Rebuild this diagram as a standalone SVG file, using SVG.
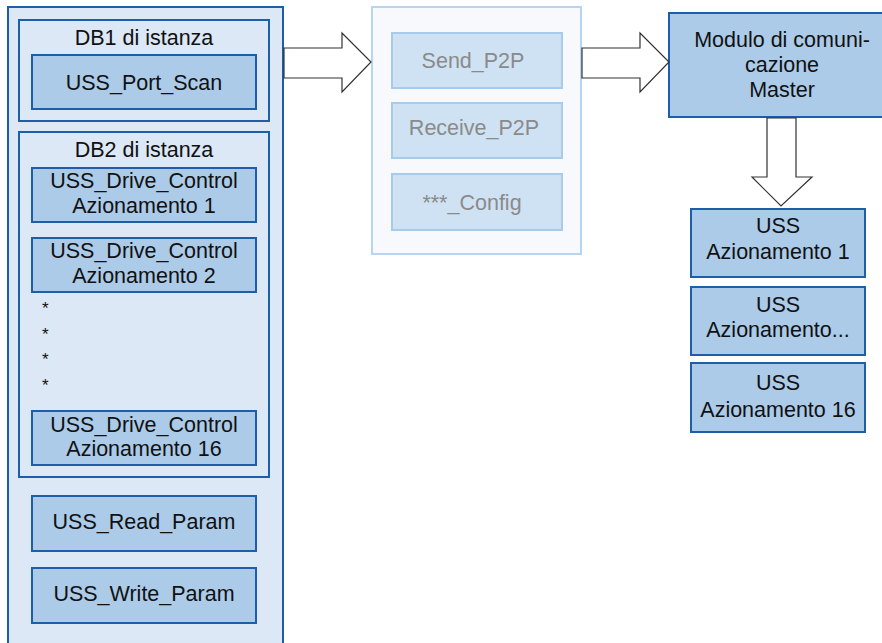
<svg xmlns="http://www.w3.org/2000/svg" width="882" height="643" viewBox="0 0 882 643">
  <style>
    .panel { fill: #dce8f5; stroke: #1c5fa8; stroke-width: 2; }
    .block { fill: #abcbe9; stroke: #1c5fa8; stroke-width: 2; }
    .lib { fill: #f7f9fc; stroke: #b9d4ee; stroke-width: 2; }
    .libblock { fill: #cfe2f3; stroke: #a8cbea; stroke-width: 2; }
    .t { font-family: "Liberation Sans", Arial, sans-serif; font-size: 21.5px; fill: #111; text-anchor: middle; }
    .g { fill: #8a8a8a; }
    .star { font-family: "Liberation Sans", Arial, sans-serif; font-size: 17px; fill: #111; }
    .arrow { fill: #ffffff; stroke: #333; stroke-width: 1.2; }
  </style>
  <rect width="882" height="643" fill="#ffffff"/>

  <!-- Program blocks (left column) -->
  <g id="program">
    <rect class="panel" x="8" y="7" width="275" height="650"/>
  </g>
  <g id="db1">
    <rect class="panel" x="19" y="20" width="250" height="101"/>
    <text class="t" x="144" y="45">DB1 di istanza</text>
  </g>
  <g id="port-scan">
    <rect class="block" x="32" y="55" width="224" height="54"/>
    <text class="t" x="144" y="90">USS_Port_Scan</text>
  </g>
  <g id="db2">
    <rect class="panel" x="19" y="132" width="250" height="345"/>
    <text class="t" x="144" y="157">DB2 di istanza</text>
  </g>
  <g id="drive1">
    <rect class="block" x="32" y="168" width="224" height="54"/>
    <text class="t" x="144" y="188">USS_Drive_Control</text>
    <text class="t" x="144" y="213">Azionamento 1</text>
  </g>
  <g id="drive2">
    <rect class="block" x="32" y="238" width="224" height="54"/>
    <text class="t" x="144" y="258">USS_Drive_Control</text>
    <text class="t" x="144" y="283">Azionamento 2</text>
  </g>
  <g id="ellipsis">
    <text class="star" x="42" y="314">*</text>
    <text class="star" x="42" y="340">*</text>
    <text class="star" x="42" y="365">*</text>
    <text class="star" x="42" y="391">*</text>
  </g>
  <g id="drive16">
    <rect class="block" x="32" y="411" width="224" height="54"/>
    <text class="t" x="144" y="432">USS_Drive_Control</text>
    <text class="t" x="144" y="456">Azionamento 16</text>
  </g>
  <g id="read-param">
    <rect class="block" x="32" y="496" width="224" height="55"/>
    <text class="t" x="144" y="529">USS_Read_Param</text>
  </g>
  <g id="write-param">
    <rect class="block" x="32" y="568" width="224" height="55"/>
    <text class="t" x="144" y="601">USS_Write_Param</text>
  </g>

  <!-- Point-to-point library (middle column) -->
  <g id="p2p">
    <rect class="lib" x="372" y="7" width="209" height="247"/>
  </g>
  <g id="send">
    <rect class="libblock" x="392" y="33" width="170" height="55"/>
    <text class="t g" x="473" y="68">Send_P2P</text>
  </g>
  <g id="receive">
    <rect class="libblock" x="392" y="103" width="170" height="55"/>
    <text class="t g" x="474" y="135">Receive_P2P</text>
  </g>
  <g id="config">
    <rect class="libblock" x="392" y="174" width="170" height="56"/>
    <text class="t g" x="472" y="210">***_Config</text>
  </g>

  <!-- Hardware (right column) -->
  <g id="master">
    <rect class="block" x="669" y="13" width="230" height="104"/>
    <text class="t" x="782" y="47">Modulo di comuni-</text>
    <text class="t" x="782" y="72">cazione</text>
    <text class="t" x="782" y="97">Master</text>
  </g>
  <g id="uss1">
    <rect class="block" x="691" y="209" width="174" height="68"/>
    <text class="t" x="778" y="233">USS</text>
    <text class="t" x="778" y="259">Azionamento 1</text>
  </g>
  <g id="uss-n">
    <rect class="block" x="691" y="287" width="174" height="68"/>
    <text class="t" x="778" y="312">USS</text>
    <text class="t" x="778" y="337">Azionamento...</text>
  </g>
  <g id="uss16">
    <rect class="block" x="691" y="363" width="174" height="69"/>
    <text class="t" x="778" y="390">USS</text>
    <text class="t" x="778" y="417">Azionamento 16</text>
  </g>

  <!-- Block arrows -->
  <g id="connectors">
    <polygon class="arrow" points="284,48 342,48 342,33 371,62 342,92 342,78 284,78"/>
    <polygon class="arrow" points="582,48 640,48 640,33 669,62 640,92 640,78 582,78"/>
    <polygon class="arrow" points="767,118 796,118 796,177 812,177 781,206 752,177 767,177"/>
  </g>
</svg>
